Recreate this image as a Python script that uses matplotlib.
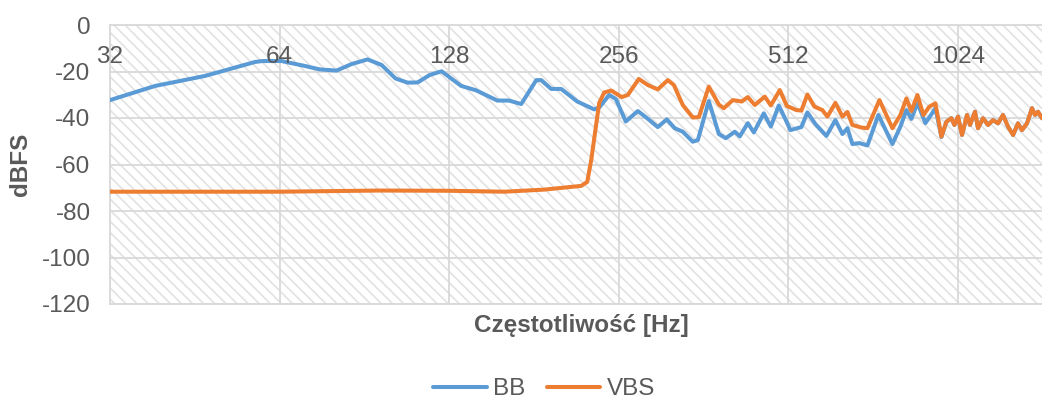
import matplotlib.pyplot as plt
from matplotlib.patches import Rectangle

plt.rcParams['font.family'] = ['Liberation Sans', 'DejaVu Sans']
plt.rcParams['hatch.color'] = '#e2e2e2'
plt.rcParams['hatch.linewidth'] = 1.2

# Widmo sygnału BB (bez przetwarzania), częstotliwość w Hz i poziom w dBFS
bb_freq = [32, 38.5, 47.2, 57.9, 59.6, 64.5, 70.9, 75.4, 80.8, 85.9, 91.7, 97.1,
           102.8, 108.0, 112.5, 118.2, 124.1, 134.4, 142.9, 155.8, 163.5, 171.8,
           182.7, 186.4, 194.2, 202.3, 216.0, 231.5, 236.3, 246.1, 252.9, 263.4,
           276.7, 287.1, 300.2, 311.5, 321.8, 332.5, 346.4, 353.6, 369.8, 385.3,
           396.4, 411.3, 419.8, 433.7, 444.5, 463.0, 476.5, 492.3, 506.6, 516.2,
           539.9, 553.3, 571.7, 598.0, 620.4, 638.5, 651.6, 665.1, 684.4, 707.1,
           739.6, 783.2, 809.2, 829.3, 846.4, 867.5, 896.3, 922.3, 933.7, 956.9]
bb_db = [-32.3, -26.2, -21.9, -15.9, -15.5, -15.5, -17.6, -19.1, -19.6, -16.8, -14.8, -17.2,
         -23.0, -24.8, -24.7, -21.5, -19.9, -26.2, -28.1, -32.5, -32.5, -34.0,
         -23.7, -23.7, -27.5, -27.5, -32.9, -36.3, -35.5, -30.1, -31.8, -41.5,
         -37.0, -40.0, -43.9, -40.6, -44.4, -45.9, -50.2, -49.5, -32.7, -46.9,
         -48.7, -45.9, -47.9, -42.2, -46.2, -38.0, -43.7, -34.6, -40.9, -45.2,
         -43.9, -37.6, -42.6, -47.7, -40.9, -46.9, -44.4, -51.2, -50.8, -51.8,
         -38.7, -51.2, -43.7, -36.6, -40.4, -33.5, -42.2, -37.8, -35.7, -48.2]

# Sygnał VBS (wirtualny bas)
vbs_freq = [32, 46.2, 64, 96.3, 127.0, 160.3, 188.7, 219.5, 225.0, 228.7, 232.4, 236.3,
            241.2, 248.2, 259.1, 265.6, 277.8, 288.2, 300.2, 312.8, 320.6, 332.5,
            346.4, 355.1, 369.8, 385.3, 393.2, 407.9, 423.2, 433.7, 446.3, 464.9,
            476.5, 494.3, 508.7, 529.0, 539.9, 553.3, 569.4, 588.3, 600.5, 620.4,
            638.5, 651.6, 665.1, 690.0, 707.1, 742.7, 783.2, 809.2, 829.3, 846.4,
            867.5, 889.0, 911.0, 933.7, 956.9]
vbs_db = [-71.7, -71.7, -71.7, -71.2, -71.3, -71.7, -70.8, -69.2, -67.5, -58.1, -46.0, -33.5,
          -29.0, -28.2, -31.0, -30.1, -23.2, -25.8, -27.7, -23.7, -25.8, -34.4,
          -39.8, -39.6, -26.5, -34.2, -35.8, -32.3, -32.9, -31.0, -34.4, -30.8,
          -34.6, -28.0, -34.8, -36.6, -36.8, -29.9, -35.1, -36.6, -39.4, -33.5,
          -39.4, -37.4, -43.0, -44.1, -44.4, -32.3, -44.4, -38.7, -31.6, -37.0,
          -30.1, -38.7, -35.1, -33.7, -48.0]

# Powyżej ~960 Hz oba sygnały są identyczne
hf_freq = [976.6, 996.8, 1009.1, 1024, 1040.9, 1062.4, 1075.5, 1097.7, 1111.2, 1134.3,
           1157.5, 1181.4, 1205.9, 1230.7, 1256.2, 1282.6, 1308.4, 1330.2, 1357.6,
           1385.6, 1402.7, 1420.3, 1443.4]
hf_db = [-41.6, -40.1, -43.0, -39.4, -47.3, -38.7, -43.0, -37.3, -44.4, -40.1,
         -43.0, -40.9, -42.3, -38.7, -43.7, -47.3, -42.3, -45.2, -42.3,
         -35.8, -38.7, -37.3, -40.1]

xticks = [32, 64, 128, 256, 512, 1024]
yticks = [-120, -100, -80, -60, -40, -20, 0]

text_color = '#595959'
grid_color = '#d9d9d9'
fs = 17.5

fig = plt.figure(figsize=(10.42, 3.99), dpi=100)
ax = fig.add_axes([110 / 1042, 95 / 399, 932 / 1042, 279 / 399])

# tło w ukośne paski
ax.add_patch(Rectangle((0, 0), 1, 1, transform=ax.transAxes, facecolor='white',
                       edgecolor='#e2e2e2', hatch='\\\\\\', linewidth=0, zorder=0))

ax.plot(bb_freq + hf_freq, bb_db + hf_db, color='#5B9BD5', linewidth=2.9,
        solid_joinstyle='round', solid_capstyle='round', label='BB', zorder=3)
ax.plot(vbs_freq + hf_freq, vbs_db + hf_db, color='#ED7D31', linewidth=2.9,
        solid_joinstyle='round', solid_capstyle='round', label='VBS', zorder=4)

ax.set_xscale('log', base=2)
ax.set_xlim(32, 1443.4)
ax.set_ylim(-120, 0)
ax.set_xticks(xticks)
ax.set_xticklabels([])
ax.minorticks_off()
ax.set_yticks(yticks)
ax.set_yticklabels([str(v) for v in yticks])
ax.tick_params(axis='x', length=0)
ax.tick_params(axis='y', length=0, pad=14, labelsize=fs, labelcolor=text_color)

# etykiety osi X wewnątrz wykresu, pod linią 0 dB
for t in xticks:
    ax.text(t, 0.885, str(t), transform=ax.get_xaxis_transform(), ha='center',
            va='center', fontsize=fs, color=text_color, zorder=5)

ax.grid(True, color=grid_color, linewidth=1.3)
ax.set_axisbelow(True)
for side in ['left', 'top', 'bottom']:
    ax.spines[side].set_color(grid_color)
    ax.spines[side].set_linewidth(1.3)
ax.spines['right'].set_visible(False)

ax.text(-0.0955, 0.5, 'dBFS', transform=ax.transAxes, rotation=90, ha='center',
        va='center', fontsize=fs, fontweight='bold', color=text_color)
fig.text(581 / 1042, 1 - 332 / 399, 'Częstotliwość [Hz]', ha='center', va='baseline',
         fontsize=fs, fontweight='bold', color=text_color)

leg = ax.legend(loc='center', bbox_to_anchor=(544 / 1042, 1 - 389 / 399),
                bbox_transform=fig.transFigure, ncol=2, frameon=False, fontsize=fs,
                handlelength=2.2, handletextpad=0.25, columnspacing=0.9,
                borderpad=0, borderaxespad=0)
for txt in leg.get_texts():
    txt.set_color(text_color)

fig.savefig('out.png', dpi=100)
